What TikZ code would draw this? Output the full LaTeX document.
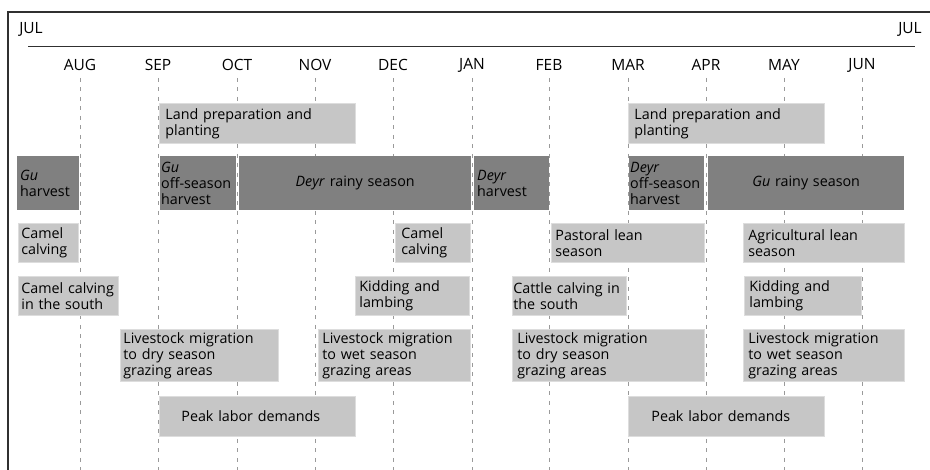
\documentclass[tikz,border=0pt]{standalone}
\usepackage{fontspec}
\setmainfont{Open Sans}
\definecolor{lightg}{HTML}{C6C6C6}
\definecolor{darkg}{HTML}{808080}
\definecolor{lightedge}{HTML}{DDDDDD}
\definecolor{dashg}{HTML}{9A9A9A}
\definecolor{frameg}{HTML}{303030}
\newcommand\bx[8][]{%
  \pgfmathsetmacro\bxw{#5-#3-2*#7}%
  \pgfmathsetmacro\bxh{#6-#4}%
  \node[#1, inner xsep=#7pt, inner ysep=0pt, text width=\bxw pt,
        minimum height=\bxh pt, anchor=north west] (#2) at (#3,#4) {#8};}
\begin{document}
\begin{tikzpicture}[x=1pt,y=-1pt,
  every node/.style={font=\fontsize{14.3}{16}\selectfont},
  lbox/.style={fill=lightg, draw=lightedge, line width=0.8pt, align=left},
  dbox/.style={fill=darkg, align=left},
  month/.style={inner sep=0pt, anchor=center, font=\fontsize{15.5}{17}\selectfont},
  grid/.style={draw=dashg, line width=0.8pt, dash pattern=on 4pt off 5.5pt},
  frame/.style={draw=frameg, line width=1.1pt}]
\useasboundingbox (0,0) rectangle (930,470);
% frame
\coordinate (fbl) at (8,471);
\coordinate (ftl) at (8,12);
\coordinate (ftr) at (931,12);
\draw[frame] (fbl) -- (ftl) -- (ftr);
\coordinate (hl) at (28,46);
\coordinate (hr) at (915,46);
\draw[frame, line width=0.9pt] (hl) -- (hr);
\node[month] (jul1) at (31,29) {JUL};
\node[month] (jul2) at (910,29) {JUL};
% months and grid lines
\foreach \m/\x in {AUG/80,SEP/158,OCT/237,NOV/315,DEC/393,JAN/472,FEB/549,MAR/628,APR/706,MAY/784,JUN/862}{
  \node[month] (m\m) at (\x,65) {\m};
  \coordinate (t\m) at (\x,78);
  \coordinate (b\m) at (\x,470);
  \draw[grid] (t\m) -- (b\m);
}
% row 1
\bx[lbox]{lp1}{159}{103}{355}{143}{6}{Land preparation and\\planting}
\bx[lbox]{lp2}{628}{103}{824}{143}{6}{Land preparation and\\planting}
% row 2
\bx[dbox]{guh}{17}{156}{79}{210}{3}{\textit{Gu}\\harvest}
\bx[dbox]{guo}{160}{156}{236}{210}{1}{\textit{Gu}\\off-season\\harvest}
\bx[dbox,align=center]{deyrr}{239}{156}{471}{210}{3}{\textit{Deyr} rainy season}
\bx[dbox]{deyrh}{474}{156}{549}{210}{3}{\textit{Deyr}\\harvest}
\bx[dbox]{deyro}{629}{156}{704}{210}{1}{\textit{Deyr}\\off-season\\harvest}
\bx[dbox,align=center]{gur}{708}{156}{904}{210}{3}{\textit{Gu} rainy season}
% row 3
\bx[lbox]{cc1}{18}{223}{78}{262}{3}{Camel\\calving}
\bx[lbox]{cc2}{395}{223}{470}{262}{6}{Camel\\calving}
\bx[lbox]{pls}{551}{223}{704}{262}{4}{Pastoral lean\\season}
\bx[lbox]{als}{743}{223}{904}{262}{5}{Agricultural lean\\season}
% row 4
\bx[lbox]{ccs}{18}{276}{118}{315}{3}{Camel calving\\in the south}
\bx[lbox]{kl1}{355}{276}{469}{315}{4}{Kidding and\\lambing}
\bx[lbox]{cas}{512}{276}{626}{315}{1}{Cattle calving in\\the south}
\bx[lbox]{kl2}{744}{276}{861}{315}{5}{Kidding and\\lambing}
% row 5
\bx[lbox]{lmd1}{120}{329}{278}{381}{3}{Livestock migration\\to dry season\\grazing areas}
\bx[lbox]{lmw1}{318}{329}{470}{381}{4}{Livestock migration\\to wet season\\grazing areas}
\bx[lbox]{lmd2}{512}{329}{704}{381}{5}{Livestock migration\\to dry season\\grazing areas}
\bx[lbox]{lmw2}{743}{329}{904}{381}{5}{Livestock migration\\to wet season\\grazing areas}
% row 6
\bx[lbox]{pl1}{159}{396}{355}{436}{22}{Peak labor demands}
\bx[lbox]{pl2}{628}{396}{824}{436}{23}{Peak labor demands}
\end{tikzpicture}
\end{document}
